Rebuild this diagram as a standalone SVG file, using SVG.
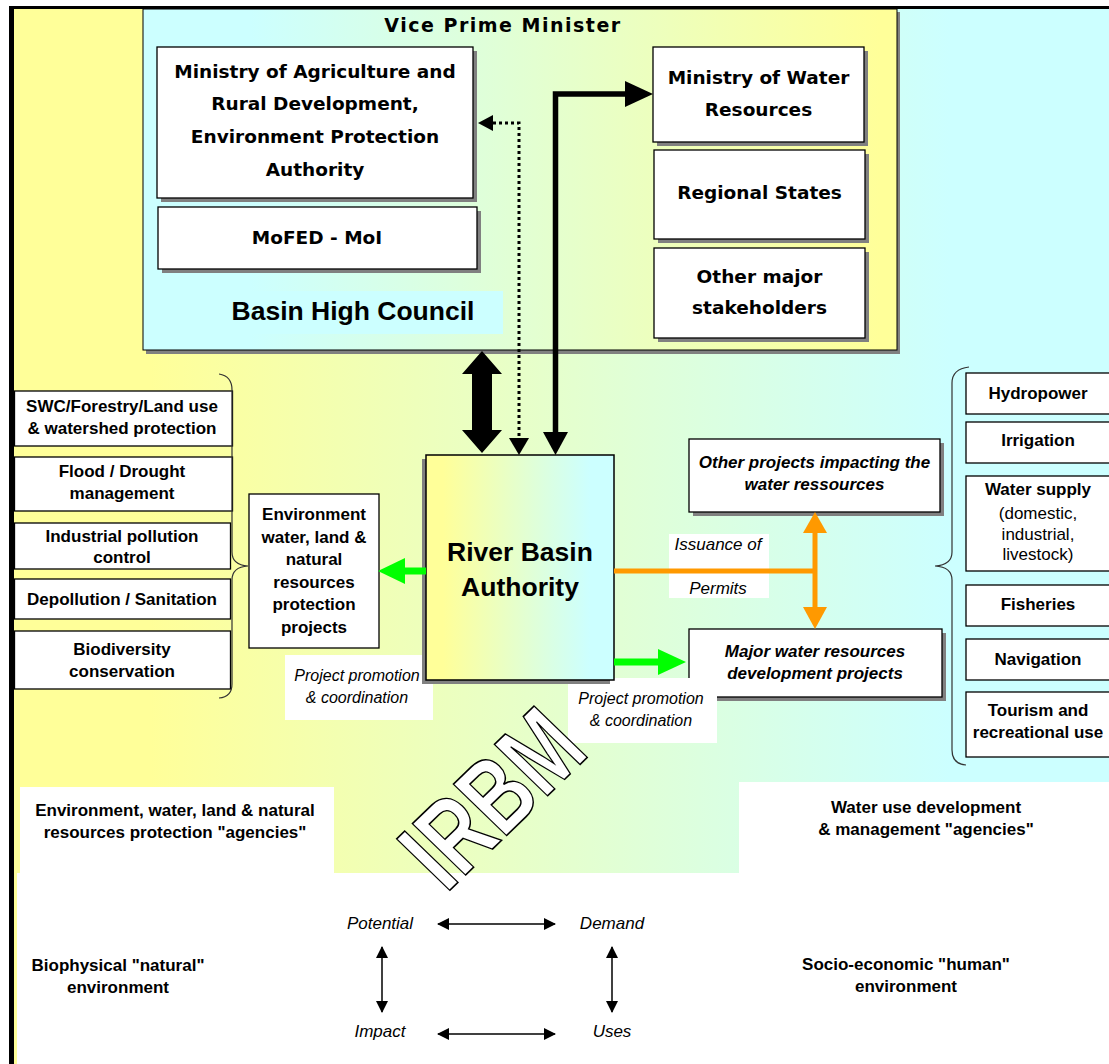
<svg xmlns="http://www.w3.org/2000/svg" width="1109" height="1064" viewBox="0 0 1109 1064">
<defs>
<linearGradient id="gOuter" gradientUnits="userSpaceOnUse" x1="150" y1="0" x2="950" y2="0"><stop offset="0" stop-color="#FFFF99"/><stop offset="1" stop-color="#CCFFFF"/></linearGradient>
<linearGradient id="gCouncil" gradientUnits="userSpaceOnUse" x1="250" y1="0" x2="880" y2="0"><stop offset="0" stop-color="#CCFFFF"/><stop offset="1" stop-color="#FFFF99"/></linearGradient>
<linearGradient id="gRBA" gradientUnits="userSpaceOnUse" x1="443" y1="0" x2="590" y2="0"><stop offset="0" stop-color="#FFFF99"/><stop offset="1" stop-color="#CCFFFF"/></linearGradient>
<marker id="ah" viewBox="0 0 12 12" refX="11" refY="6" markerWidth="12" markerHeight="12" markerUnits="userSpaceOnUse" orient="auto-start-reverse"><path d="M0,0 L12,6 L0,12 z" fill="#000"/></marker>
</defs>
<style>
.box{fill:#fff;stroke:#000;stroke-width:1.3}
.sh{fill:#808080}
.lbl{fill:#fff}
.t{font-family:"Liberation Sans",Arial,sans-serif;font-size:17px;text-anchor:middle;fill:#000}
.b{font-weight:bold}
.i{font-style:italic}
.s16{font-size:16px}
.big{font-size:26.5px;font-weight:bold}
.h{font-family:"DejaVu Sans",sans-serif;font-weight:bold;font-size:18.5px;text-anchor:middle;fill:#000}
.brace{fill:none;stroke:#333;stroke-width:1.2}
.irbm{font-family:"Liberation Sans",Arial,sans-serif;font-weight:bold;font-size:79px;fill:#fff;stroke:#000;stroke-width:1.2}
</style>

<g id="background">
<rect width="1109" height="1064" fill="#fff"/>
<rect x="14" y="9" width="1095" height="864" fill="url(#gOuter)"/>
<rect x="20" y="787" width="314" height="86" fill="#fff"/>
<rect x="739" y="782" width="370" height="91" fill="#fff"/>
<rect x="14" y="873" width="3" height="191" fill="#FFFF99"/>
<rect x="9" y="6" width="5" height="1058" fill="#000"/>
<rect x="9" y="6" width="1100" height="3" fill="#000"/>
</g>

<g id="basin-high-council">
<rect x="146" y="12" width="754" height="342" class="sh"/>
<rect x="143" y="9" width="754" height="341" fill="url(#gCouncil)" stroke="#000" stroke-width="1"/>
<text x="503" y="32" class="h" style="font-size:19px;letter-spacing:1.5px">Vice Prime Minister</text>
<rect x="214" y="291" width="289" height="43" fill="#CCFFFF"/>
<text x="353" y="320" class="t big">Basin High Council</text>
</g>

<g id="ministry-agriculture">
<rect x="161" y="51" width="316" height="151" class="sh"/>
<rect x="157" y="47" width="316" height="151" class="box"/>
<text x="315" y="77.5" class="h">Ministry of Agriculture and</text>
<text x="315" y="110" class="h">Rural Development,</text>
<text x="315" y="143" class="h">Environment Protection</text>
<text x="315" y="176" class="h">Authority</text>
</g>

<g id="mofed-moi">
<rect x="162" y="211" width="319" height="62" class="sh"/>
<rect x="158" y="207" width="319" height="62" class="box"/>
<text x="317" y="244" class="h">MoFED - MoI</text>
</g>

<g id="ministry-water">
<rect x="657" y="51" width="211" height="95" class="sh"/>
<rect x="653" y="47" width="211" height="95" class="box"/>
<text x="758.5" y="83.5" class="h">Ministry of Water</text>
<text x="758.5" y="115.5" class="h">Resources</text>
</g>

<g id="regional-states">
<rect x="658" y="154" width="211" height="89" class="sh"/>
<rect x="654" y="150" width="211" height="89" class="box"/>
<text x="759.5" y="199" class="h">Regional States</text>
</g>

<g id="other-stakeholders">
<rect x="658" y="252" width="211" height="90" class="sh"/>
<rect x="654" y="248" width="211" height="90" class="box"/>
<text x="759.5" y="282.5" class="h">Other major</text>
<text x="759.5" y="314" class="h">stakeholders</text>
</g>

<g id="left-agencies">
<rect x="14.5" y="391" width="218" height="55" class="box"/>
<text x="122" y="412" class="t b">SWC/Forestry/Land use</text>
<text x="122" y="434" class="t b">&amp; watershed protection</text>
<rect x="14.5" y="457" width="218" height="54" class="box"/>
<text x="122" y="477" class="t b">Flood / Drought</text>
<text x="122" y="499" class="t b">management</text>
<rect x="14.5" y="523" width="216" height="46" class="box"/>
<text x="122" y="541.5" class="t b">Industrial pollution</text>
<text x="122" y="563" class="t b">control</text>
<rect x="14.5" y="579" width="216" height="40" class="box"/>
<text x="122" y="604.5" class="t b">Depollution / Sanitation</text>
<rect x="14.5" y="631" width="216" height="58" class="box"/>
<text x="122" y="655" class="t b">Biodiversity</text>
<text x="122" y="677" class="t b">conservation</text>
<path class="brace" d="M219,374 Q232,376 232,390 L232,552 Q232,565 248,566 Q232,567 232,580 L232,684 Q232,697 219,698"/>
</g>

<g id="environment-projects">
<rect x="249" y="494" width="130" height="154" class="box"/>
<text x="314" y="520" class="t b">Environment</text>
<text x="314" y="542.5" class="t b">water, land &amp;</text>
<text x="314" y="565" class="t b">natural</text>
<text x="314" y="587.5" class="t b">resources</text>
<text x="314" y="610" class="t b">protection</text>
<text x="314" y="632.5" class="t b">projects</text>
</g>

<g id="other-projects">
<rect x="693" y="443" width="251" height="73" class="sh"/>
<rect x="689" y="439" width="251" height="73" class="box"/>
<text x="814.5" y="468" class="t b i">Other projects impacting the</text>
<text x="814.5" y="490" class="t b i">water ressources</text>
</g>

<g id="major-projects">
<rect x="693" y="633" width="253" height="68" class="sh"/>
<rect x="689" y="629" width="253" height="68" class="box"/>
<text x="815" y="657" class="t b i">Major water resources</text>
<text x="815" y="679" class="t b i">development projects</text>
</g>

<g id="label-promotion-left">
<rect x="285" y="655" width="148" height="65" class="lbl"/>
<text x="357" y="681" class="t i s16">Project promotion</text>
<text x="357" y="703" class="t i s16">&amp; coordination</text>
</g>

<g id="label-promotion-right">
<rect x="568" y="678" width="149" height="65" class="lbl"/>
<text x="641" y="704" class="t i s16">Project promotion</text>
<text x="641" y="726" class="t i s16">&amp; coordination</text>
</g>

<g id="river-basin-authority">
<rect x="422" y="459" width="188" height="225" fill="#808080"/>
<rect x="426" y="455" width="188" height="225" fill="url(#gRBA)" stroke="#000" stroke-width="1.5"/>
<text x="520" y="561" class="t big">River Basin</text>
<text x="520" y="596" class="t big">Authority</text>
</g>

<g id="label-permits">
<rect x="669" y="534" width="100" height="64" class="lbl"/>
<text x="718" y="550" class="t i">Issuance of</text>
<text x="718" y="594" class="t i">Permits</text>
</g>

<g id="right-uses">
<rect x="966" y="373" width="150" height="41" class="box"/>
<text x="1038" y="399" class="t b">Hydropower</text>
<rect x="966" y="422" width="150" height="41" class="box"/>
<text x="1038" y="446" class="t b">Irrigation</text>
<rect x="966" y="476" width="150" height="95" class="box"/>
<text x="1038" y="495" class="t b">Water supply</text>
<text x="1038" y="519" class="t">(domestic,</text>
<text x="1038" y="540" class="t">industrial,</text>
<text x="1038" y="560" class="t">livestock)</text>
<rect x="966" y="585" width="150" height="41" class="box"/>
<text x="1038" y="610" class="t b">Fisheries</text>
<rect x="966" y="639" width="150" height="41" class="box"/>
<text x="1038" y="665" class="t b">Navigation</text>
<rect x="966" y="692" width="150" height="65" class="box"/>
<text x="1038" y="716" class="t b">Tourism and</text>
<text x="1038" y="738" class="t b">recreational use</text>
<path class="brace" d="M969,367 Q952,369 952,383 L952,552 Q952,565 935,566 Q952,567 952,580 L952,750 Q952,764 966,765"/>
</g>

<g id="connectors">
<polygon points="482,351 502,374 492,374 492,430 502,430 482,453 462,430 472,430 472,374 462,374" fill="#000"/>
<path d="M493,123 H519 V438" fill="none" stroke="#000" stroke-width="3" stroke-dasharray="3,3"/>
<polygon points="478,123 493,115 493,131" fill="#000"/>
<polygon points="519,455 509,438 529,438" fill="#000"/>
<path d="M555.5,432 V94 H627" fill="none" stroke="#000" stroke-width="5.5"/>
<polygon points="653,94 625,81 625,107" fill="#000"/>
<polygon points="555.5,455 543,432 568,432" fill="#000"/>
<path d="M426,571 H404" stroke="#00FF00" stroke-width="7"/>
<polygon points="378,571 405,558 405,584" fill="#00FF00"/>
<path d="M614,662 H660" stroke="#00FF00" stroke-width="7"/>
<polygon points="686,662 658,649 658,675" fill="#00FF00"/>
<path d="M614,571 H817" stroke="#FF9900" stroke-width="5"/>
<path d="M815,531 V609" stroke="#FF9900" stroke-width="5"/>
<polygon points="815,512 803,533 827,533" fill="#FF9900"/>
<polygon points="815,629 803,607 827,607" fill="#FF9900"/>
<path d="M438,924 H555" stroke="#000" stroke-width="1.5" marker-start="url(#ah)" marker-end="url(#ah)"/>
<path d="M438,1034 H555" stroke="#000" stroke-width="1.5" marker-start="url(#ah)" marker-end="url(#ah)"/>
<path d="M382,947 V1012" stroke="#000" stroke-width="1.5" marker-start="url(#ah)" marker-end="url(#ah)"/>
<path d="M612,947 V1012" stroke="#000" stroke-width="1.5" marker-start="url(#ah)" marker-end="url(#ah)"/>
</g>

<g id="irbm">
<text class="irbm" transform="translate(446,894) rotate(-44) skewX(2) scale(1,1.36)">IRBM</text>
</g>

<g id="bottom-labels">
<text x="175" y="816" class="t b">Environment, water, land &amp; natural</text>
<text x="175" y="838" class="t b">resources protection "agencies"</text>
<text x="926" y="813" class="t b">Water use development</text>
<text x="926" y="835" class="t b">&amp; management "agencies"</text>
<text x="118" y="971" class="t b">Biophysical "natural"</text>
<text x="118" y="993" class="t b">environment</text>
<text x="906" y="970" class="t b">Socio-economic "human"</text>
<text x="906" y="992" class="t b">environment</text>
<text x="380" y="929" class="t i">Potential</text>
<text x="612" y="929" class="t i">Demand</text>
<text x="380" y="1037" class="t i">Impact</text>
<text x="612" y="1037" class="t i">Uses</text>
</g>
</svg>
